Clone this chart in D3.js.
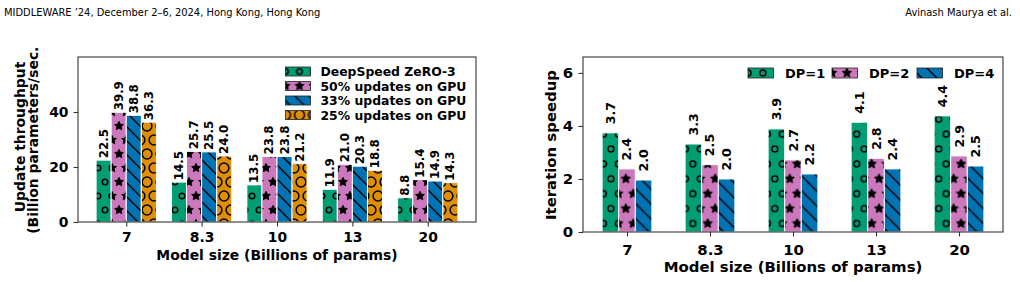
<!DOCTYPE html>
<html>
<head>
<meta charset="utf-8">
<script src="https://cdn.jsdelivr.net/npm/d3@7"></script>
<style>
body { margin: 0; background: #fff; }
svg text { font-family: "DejaVu Sans", sans-serif; font-weight: bold; fill: #000; }
svg text.hdr { font-family: "Liberation Sans Narrow", "DejaVu Sans Condensed", sans-serif; font-weight: normal; }
</style>
</head>
<body>
<svg id="fig" width="1020" height="282"></svg>
<script>
// data
var sizes = ["7", "8.3", "10", "13", "20"];

var zero3  = [22.5, 14.5, 13.5, 11.9, 8.8];
var gpu50  = [39.9, 25.7, 23.8, 21.0, 15.4];
var gpu33  = [38.8, 25.5, 23.8, 20.3, 14.9];
var gpu25  = [36.3, 24.0, 21.2, 18.8, 14.3];
var leftNames = ["DeepSpeed ZeRO-3", "50% updates on GPU", "33% updates on GPU", "25% updates on GPU"];
var leftTicks = [0, 20, 40];

var dp1 = [3.74, 3.32, 3.89, 4.14, 4.38];
var dp2 = [2.38, 2.54, 2.72, 2.78, 2.87];
var dp4 = [1.96, 2.00, 2.19, 2.38, 2.49];
var rightNames = ["DP=1", "DP=2", "DP=4"];
var rightTicks = [0, 2, 4, 6];

var colors = ["#029e73", "#cc78bc", "#0173b2", "#de8f05"];
var hatches = ["o", "*", "\\", "O"];

var svg = d3.select("#fig");
var defs = svg.append("defs");

// matplotlib-like hatch tiles
function starPath(cx, cy, R) {
	var pts = [];
	for (var k = 0; k < 10; k++) {
		var a = -Math.PI / 2 + k * Math.PI / 5;
		var r = k % 2 ? R * 0.5 : R;
		pts.push([cx + r * Math.cos(a), cy + r * Math.sin(a)]);
	}
	return "M" + pts.join("L") + "Z";
}

function hatch(id, color, kind, s) {
	var w = s, h = kind == "\\" ? s : 2 * s;
	var p = defs.append("pattern").attr("id", id)
		.attr("patternUnits", "userSpaceOnUse")
		.attr("width", w).attr("height", h);
	p.append("rect").attr("width", w).attr("height", h).attr("fill", color);
	if (kind == "\\") {
		p.append("path")
			.attr("d", "M0,0L" + w + "," + w + "M" + (-w) + ",0L" + w + "," + (2 * w) + "M0," + (-w) + "L" + (2 * w) + "," + w)
			.attr("stroke", "#000").attr("stroke-width", 1.4);
		return;
	}
	var centers = [[0, 0], [s, 0], [s / 2, s], [0, 2 * s], [s, 2 * s]];
	centers.forEach(function(c) {
		if (kind == "*") {
			p.append("path").attr("d", starPath(c[0], c[1], s / 3))
				.attr("fill", "#000").attr("stroke", "#000").attr("stroke-width", 0.8);
		} else {
			p.append("circle").attr("cx", c[0]).attr("cy", c[1])
				.attr("r", kind == "o" ? 0.2 * s : 0.35 * s)
				.attr("fill", "none").attr("stroke", "#000").attr("stroke-width", 1.5);
		}
	});
}

function panel(o) {
	var g = svg.append("g");
	var x = d3.scaleLinear().domain(o.xDom).range([o.left, o.right]);
	var y = d3.scaleLinear().domain(o.yDom).range([o.bottom, o.top]);
	var n = o.series.length, bw = 0.2;

	o.series.forEach(function(vals, j) {
		hatch(o.id + j, colors[j], hatches[j], o.s);
		var off = (j - (n - 1) / 2) * bw;
		g.selectAll(null).data(vals).enter().append("rect")
			.attr("x", function(d, i) { return x(i + off - bw / 2); })
			.attr("width", function(d, i) { return x(i + off + bw / 2) - x(i + off - bw / 2); })
			.attr("y", function(d) { return y(d); })
			.attr("height", function(d) { return y(0) - y(d); })
			.attr("fill", "url(#" + o.id + j + ")")
			.attr("stroke", "#fff").attr("stroke-width", 1);
		g.selectAll(null).data(vals).enter().append("text")
			.attr("transform", function(d, i) { return "translate(" + x(i + off) + "," + (y(d) - o.gap) + ") rotate(-90)"; })
			.attr("dominant-baseline", "central")
			.style("font-size", o.valFont + "px")
			.text(function(d) { return d.toFixed(1); });
	});

	// frame
	g.append("rect")
		.attr("x", o.left).attr("y", o.top)
		.attr("width", o.right - o.left).attr("height", o.bottom - o.top)
		.attr("fill", "none").attr("stroke", "#333").attr("stroke-width", 1.1);

	var xa = g.append("g").attr("transform", "translate(0," + o.bottom + ")")
		.call(d3.axisBottom(x).tickValues(d3.range(sizes.length))
			.tickFormat(function(i) { return sizes[i]; })
			.tickSize(4.5).tickPadding(o.xPad));
	var ya = g.append("g").attr("transform", "translate(" + o.left + ",0)")
		.call(d3.axisLeft(y).tickValues(o.ticks).tickFormat(d3.format("d"))
			.tickSize(4.5).tickPadding(o.yPad));
	[xa, ya].forEach(function(a) {
		a.select(".domain").remove();
		a.selectAll("line").attr("stroke", "#333").attr("stroke-width", 1.1);
		a.selectAll("text").style("font-size", o.font + "px");
	});

	g.append("text")
		.attr("x", (o.left + o.right) / 2).attr("y", o.xLabelY)
		.attr("text-anchor", "middle").style("font-size", o.font + "px")
		.text("Model size (Billions of params)");

	return {x: x, y: y, g: g};
}

// left chart
var L = panel({
	id: "hl", s: 14, series: [zero3, gpu50, gpu33, gpu25], ticks: leftTicks,
	left: 78, right: 476, top: 57, bottom: 222,
	xDom: [-0.64, 4.64], yDom: [0, 60],
	gap: 2, valFont: 11.8, font: 13.9, xPad: 5.5, yPad: 5, xLabelY: 260
});

defs.append("clipPath").attr("id", "cutTop")
	.append("rect").attr("x", 0).attr("y", 47).attr("width", 80).attr("height", 235);
var yl = L.g.append("g").attr("clip-path", "url(#cutTop)");
yl.append("text").attr("transform", "translate(24.5,137) rotate(-90)")
	.attr("text-anchor", "middle").style("font-size", "13.9px").text("Update throughput");
yl.append("text").attr("transform", "translate(37.5,137) rotate(-90)")
	.attr("text-anchor", "middle").style("font-size", "13.9px").text("(Billion parameters/sec.)");

var legL = L.g.append("g").selectAll("g").data(leftNames).enter().append("g")
	.attr("transform", function(d, i) { return "translate(285.5," + (71.5 + i * 14.5) + ")"; });
legL.append("rect").attr("x", 0).attr("y", -4.5).attr("width", 25).attr("height", 9)
	.attr("fill", function(d, i) { return "url(#hl" + i + ")"; })
	.attr("stroke", "#222").attr("stroke-width", 0.8);
legL.append("text").attr("x", 35).attr("dominant-baseline", "central")
	.style("font-size", "12.4px").text(function(d) { return d; });

// right chart
var R = panel({
	id: "hr", s: 14.9, series: [dp1, dp2, dp4], ticks: rightTicks,
	left: 583, right: 1003, top: 57, bottom: 232,
	xDom: [-0.53, 4.53], yDom: [0, 6.6],
	gap: 8.5, valFont: 12.6, font: 14.9, xPad: 8, yPad: 5.5, xLabelY: 271.5
});

R.g.append("text").attr("transform", "translate(555.5,145) rotate(-90)")
	.attr("text-anchor", "middle").style("font-size", "14.9px").text("Iteration speedup");

var legX = [748, 832, 917];
var legR = R.g.append("g").selectAll("g").data(rightNames).enter().append("g")
	.attr("transform", function(d, i) { return "translate(" + legX[i] + ",73)"; });
legR.append("rect").attr("x", 0).attr("y", -5).attr("width", 25.5).attr("height", 10)
	.attr("fill", function(d, i) { return "url(#hr" + i + ")"; })
	.attr("stroke", "#222").attr("stroke-width", 0.8);
legR.append("text").attr("x", 37).attr("dominant-baseline", "central")
	.style("font-size", "13px").text(function(d) { return d; });

// running header
svg.append("text").attr("class", "hdr").attr("x", 4).attr("y", 16)
	.style("font-size", "11px").text("MIDDLEWARE \u201924, December 2\u20136, 2024, Hong Kong, Hong Kong");
svg.append("text").attr("class", "hdr").attr("x", 1012).attr("y", 16)
	.attr("text-anchor", "end").style("font-size", "11px").text("Avinash Maurya et al.");
</script>
</body>
</html>
